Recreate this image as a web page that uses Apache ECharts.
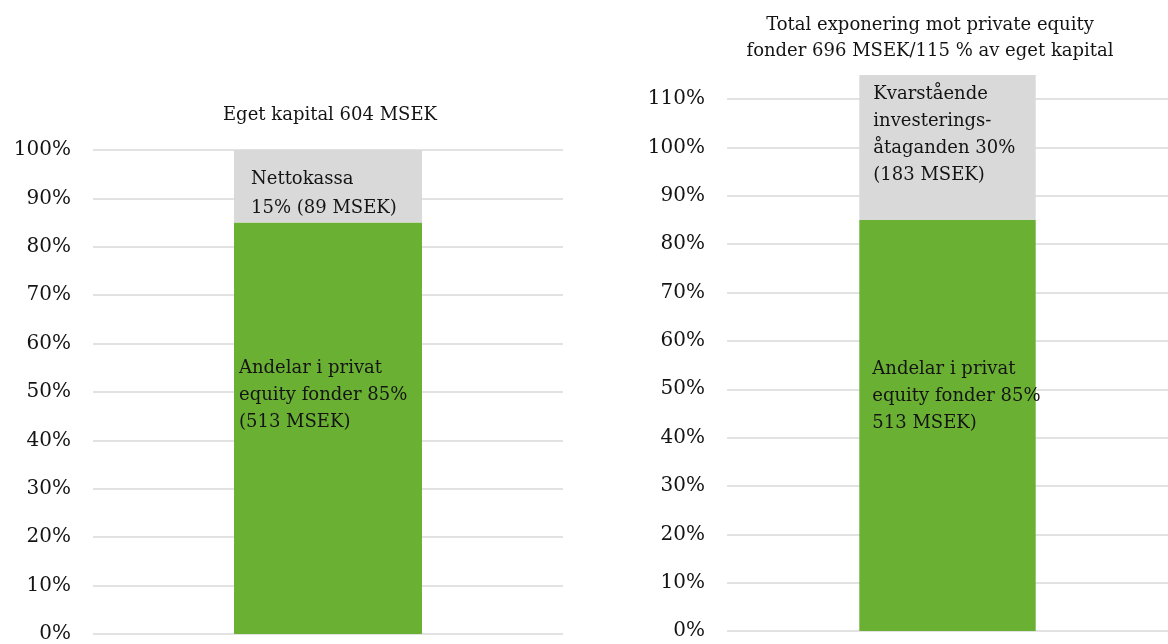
<!DOCTYPE html>
<html>
<head>
<meta charset="utf-8">
<script src="https://cdn.jsdelivr.net/npm/echarts@6/dist/echarts.min.js"></script>
<style>
  html, body { margin: 0; padding: 0; background: #fff; }
  #chart { width: 1168px; height: 644px; }
</style>
</head>
<body>
<div id="chart"></div>
<script>
// values (percent of eget kapital)
const categories = ['Eget kapital'];
const leftFunds = [85];
const leftCash = [15];
const rightFunds = [85];
const rightCommitments = [30];

const leftTitle = 'Eget kapital 604 MSEK';
const rightTitle = 'Total exponering mot private equity\nfonder 696 MSEK/115 % av eget kapital';
const leftFundsLabel = 'Andelar i privat\nequity fonder 85%\n(513 MSEK)';
const leftCashLabel = 'Nettokassa\n15% (89 MSEK)';
const rightFundsLabel = 'Andelar i privat\nequity fonder 85%\n513 MSEK)';
const rightCommitLabel = 'Kvarstående\ninvesterings-\nåtaganden 30%\n(183 MSEK)';

const FONT = 'DejaVu Serif';
const TXT = '#141414';
const GREEN = '#6ab133';
const GREY = '#d9d9d9';

function yAxis(gridIndex, max) {
    return {
        type: 'value',
        gridIndex: gridIndex,
        min: 0,
        max: max,
        interval: 10,
        axisLine: { show: false },
        axisTick: { show: false },
        axisLabel: {
            formatter: '{value}%',
            color: TXT,
            fontFamily: FONT,
            fontSize: 20,
            margin: 22,
            showMaxLabel: max % 10 === 0
        },
        splitLine: {
            showMaxLine: max % 10 === 0,
            lineStyle: { color: GREY, width: 1.5 }
        }
    };
}

function xAxis(gridIndex) {
    return {
        type: 'category',
        gridIndex: gridIndex,
        data: categories,
        axisLine: { show: false },
        axisTick: { show: false },
        axisLabel: { show: false }
    };
}

function barLabel(text, pos, lh) {
    return {
        show: true,
        formatter: text,
        position: pos,
        align: 'left',
        verticalAlign: 'top',
        color: TXT,
        fontFamily: FONT,
        fontSize: 18,
        lineHeight: lh || 27
    };
}

const titleStyle = { color: TXT, fontFamily: FONT, fontSize: 18, fontWeight: 'normal', lineHeight: 26 };

const chart = echarts.init(document.getElementById('chart'));
chart.setOption({
    animation: false,
    title: [{
        text: leftTitle,
        left: 330,
        top: 102,
        padding: 0,
        textAlign: 'center',
        textStyle: titleStyle
    }, {
        text: rightTitle,
        left: 930,
        top: 12,
        padding: 0,
        textAlign: 'center',
        textStyle: titleStyle
    }],
    grid: [
        { left: 93, width: 470, top: 150, bottom: 8 },
        { left: 727, right: -11, top: 75, bottom: 13 }
    ],
    xAxis: [xAxis(0), xAxis(1)],
    yAxis: [yAxis(0, 100), yAxis(1, 115)],
    series: [{
        name: 'Andelar i privat equity fonder',
        type: 'bar',
        stack: 'left',
        xAxisIndex: 0,
        yAxisIndex: 0,
        barWidth: '40%',
        itemStyle: { color: GREEN },
        label: barLabel(leftFundsLabel, [5, 132]),
        data: leftFunds
    }, {
        name: 'Nettokassa',
        type: 'bar',
        stack: 'left',
        xAxisIndex: 0,
        yAxisIndex: 0,
        barWidth: '40%',
        itemStyle: { color: GREY },
        label: barLabel(leftCashLabel, [17, 15], 29),
        data: leftCash
    }, {
        name: 'Andelar i privat equity fonder',
        type: 'bar',
        stack: 'right',
        xAxisIndex: 1,
        yAxisIndex: 1,
        barWidth: '40%',
        itemStyle: { color: GREEN },
        label: barLabel(rightFundsLabel, [13, 136]),
        data: rightFunds
    }, {
        name: 'Kvarstående investeringsåtaganden',
        type: 'bar',
        stack: 'right',
        xAxisIndex: 1,
        yAxisIndex: 1,
        barWidth: '40%',
        itemStyle: { color: GREY },
        label: barLabel(rightCommitLabel, [14, 6]),
        data: rightCommitments
    }]
});
window.onresize = () => { chart.resize(); };
</script>
</body>
</html>
